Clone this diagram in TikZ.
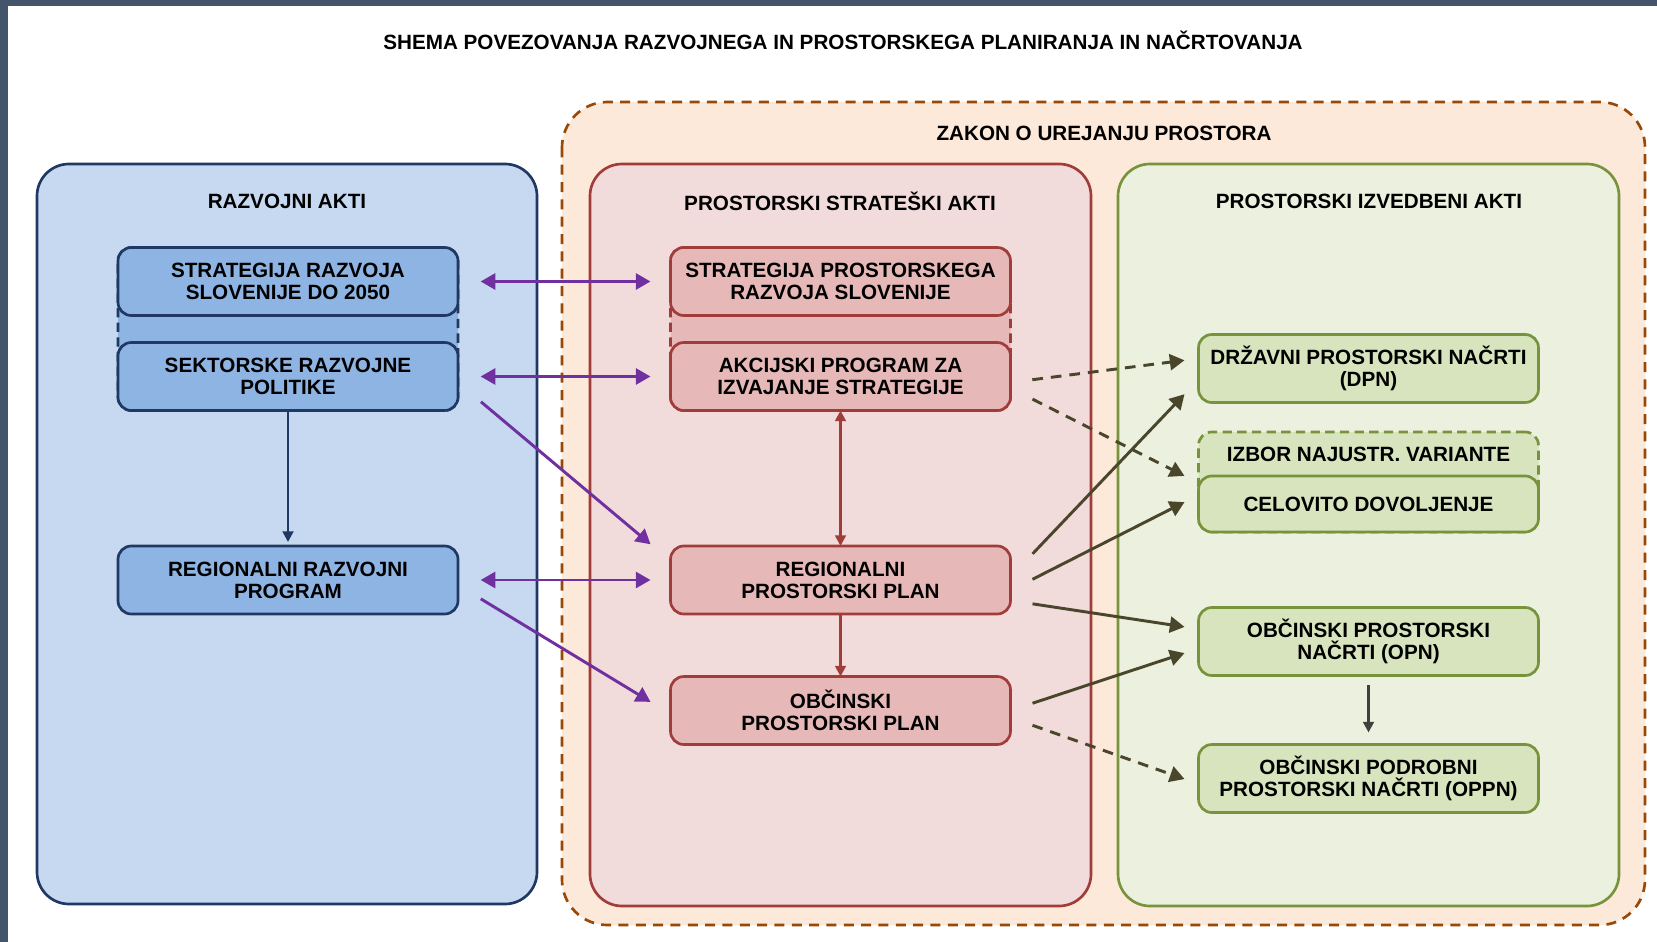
\documentclass[tikz,border=0pt]{standalone}
\usepackage{fontspec}
\setmainfont{Liberation Sans}
\usetikzlibrary{arrows.meta,fit,calc}

\definecolor{okvirtemni}{HTML}{44546A}
\definecolor{razvojfill}{HTML}{C6D9F1}
\definecolor{razvojline}{HTML}{1F3864}
\definecolor{razvojbox}{HTML}{8EB4E3}
\definecolor{zakonfill}{HTML}{FDE9D9}
\definecolor{zakonline}{HTML}{984807}
\definecolor{stratfill}{HTML}{F2DCDB}
\definecolor{stratline}{HTML}{A03C3A}
\definecolor{stratbox}{HTML}{E6B9B8}
\definecolor{izvfill}{HTML}{EBF1DE}
\definecolor{izvline}{HTML}{77933C}
\definecolor{izvbox}{HTML}{D7E4BD}
\definecolor{vijolicna}{HTML}{7030A0}
\definecolor{olivna}{HTML}{4A462C}
\definecolor{siva}{HTML}{404040}

\pgfdeclarelayer{ozadje}
\pgfdeclarelayer{skupine}
\pgfsetlayers{ozadje,skupine,main}

\tikzset{
  napis/.style={font=\fontsize{15.5pt}{16.5pt}\selectfont\bfseries, align=center, inner sep=0.75pt},
  okvir/.style={napis, rounded corners=10pt, line width=2pt, minimum width=255pt, minimum height=51pt, inner sep=0pt, outer sep=0pt},
  modri/.style={okvir, draw=razvojline, fill=razvojbox},
  rdeci/.style={okvir, draw=stratline, fill=stratbox},
  zeleni/.style={okvir, draw=izvline, fill=izvbox},
  skupina/.style={inner sep=0pt, rounded corners=10pt, line width=2pt, dash pattern=on 7pt off 4pt},
  vsebnik/.style={line width=2pt, rounded corners=24pt},
  povezava/.style={line width=2.2pt},
  mala puscica/.style={>={Triangle[length=8pt,width=8pt]}},
  vijolicna povezava/.style={povezava, draw=vijolicna},
  olivna povezava/.style={povezava, draw=olivna},
  crtkana/.style={dash pattern=on 8pt off 6pt}
}

\begin{document}
\begin{tikzpicture}[x=0.75pt,y=0.75pt,yscale=-1,xscale=1,>={Triangle[length=11pt,width=12pt]}]
\useasboundingbox (0,0) rectangle (1657,942);

\begin{pgfonlayer}{ozadje}
\fill[white] (0,0) rectangle (1657,942);
%Shape: Border
\fill[okvirtemni] (0,0) rectangle (8,942);
\fill[okvirtemni] (0,0) rectangle (1657,6);
%Shape: Rectangle [razvojni akti]
\draw[vsebnik, draw=razvojline, fill=razvojfill] (37,164) rectangle (537,904);
%Shape: Rectangle [zakon]
\draw[line width=2pt, rounded corners=34pt, draw=zakonline, fill=zakonfill, dash pattern=on 7.5pt off 5.5pt] (562,102) rectangle (1645,925);
%Shape: Rectangle [strateski akti]
\draw[vsebnik, draw=stratline, fill=stratfill] (590,164) rectangle (1091,906);
%Shape: Rectangle [izvedbeni akti]
\draw[vsebnik, draw=izvline, fill=izvfill] (1118,164) rectangle (1619,906);
\end{pgfonlayer}

% Text Node
\node[napis] (naslov) at (843,40) {SHEMA POVEZOVANJA RAZVOJNEGA IN PROSTORSKEGA PLANIRANJA IN NAČRTOVANJA};
% Text Node
\node[napis] (zakon) at (1104,133) {ZAKON O UREJANJU PROSTORA};
% Text Node
\node[napis] (razvojni) at (287,201) {RAZVOJNI AKTI};
% Text Node
\node[napis] (strateski) at (840,201) {PROSTORSKI STRATEŠKI AKTI};
% Text Node
\node[napis] (izvedbeni) at (1369,201) {PROSTORSKI IZVEDBENI AKTI};

%Blue boxes
\node[modri] (srs) at (288,281.5) {STRATEGIJA RAZVOJA\\SLOVENIJE DO 2050};
\node[modri] (srp) at (288,376.5) {SEKTORSKE RAZVOJNE\\POLITIKE};
\node[modri] (rrp) at (288,580) {REGIONALNI RAZVOJNI\\PROGRAM};

%Red boxes
\node[rdeci] (sprs) at (840.5,281.5) {STRATEGIJA PROSTORSKEGA\\RAZVOJA SLOVENIJE};
\node[rdeci] (akc) at (840.5,376.5) {AKCIJSKI PROGRAM ZA\\IZVAJANJE STRATEGIJE};
\node[rdeci] (rpp) at (840.5,580) {REGIONALNI\\PROSTORSKI PLAN};
\node[rdeci] (opp) at (840.5,710.5) {OBČINSKI\\PROSTORSKI PLAN};

%Green boxes
\node[zeleni] (dpn) at (1368.5,368.5) {DRŽAVNI PROSTORSKI NAČRTI\\(DPN)};
\node[napis, minimum width=255pt, minimum height=33pt, inner sep=0pt, outer sep=0pt] (izbor) at (1368.5,454) {IZBOR NAJUSTR. VARIANTE};
\node[zeleni, minimum height=42pt] (cd) at (1368.5,504) {CELOVITO DOVOLJENJE};
\node[zeleni] (opn) at (1368.5,641.5) {OBČINSKI PROSTORSKI\\NAČRTI (OPN)};
\node[zeleni] (oppn) at (1368.5,778.5) {OBČINSKI PODROBNI\\PROSTORSKI NAČRTI (OPPN)};

\begin{pgfonlayer}{skupine}
%Dashed groups
\node[skupina, fit=(srs)(srp), draw=razvojline, fill=razvojbox] (skupina1) {};
\node[skupina, fit=(sprs)(akc), draw=stratline, fill=stratbox] (skupina2) {};
\node[skupina, fit=(izbor)(cd), draw=izvline, fill=izvbox] (skupina3) {};
\end{pgfonlayer}

%Purple arrows
\draw[vijolicna povezava, <->, shorten <=17pt, shorten >=15pt] (srs.east) -- (sprs.west);
\draw[vijolicna povezava, <->, shorten <=17pt, shorten >=15pt] (srp.east) -- (akc.west);
\draw[vijolicna povezava, <->, shorten <=17pt, shorten >=15pt] (rrp.east) -- (rpp.west);
\draw[vijolicna povezava, ->, shorten <=22.5pt, shorten >=19.5pt] ($(srp.east)+(0,6)$) -- ($(rpp.west)+(0,-19)$);
\draw[vijolicna povezava, ->, shorten <=20pt, shorten >=17.5pt] ($(rrp.east)+(0,5)$) -- ($(opp.west)+(0,3.5)$);

%Vertical arrows
\draw[povezava, mala puscica, draw=razvojline, ->, shorten >=3pt] (srp) -- (rrp);
\draw[povezava, mala puscica, draw=stratline, <->] (akc) -- (rpp);
\draw[povezava, mala puscica, draw=stratline, ->] (rpp) -- (opp);
\draw[povezava, mala puscica, draw=siva, ->, shorten <=7pt, shorten >=9pt] (opn) -- (oppn);

%Olive arrows
\draw[olivna povezava, crtkana, ->, shorten <=16.5pt, shorten >=10.6pt] ($(akc.east)+(0,6)$) -- ($(dpn.west)+(0,-10)$);
\draw[olivna povezava, crtkana, ->, shorten <=18.5pt, shorten >=11.8pt] ($(akc.east)+(0,11.5)$) -- ($(cd.west)+(0,-21)$);
\draw[olivna povezava, ->, shorten <=24pt, shorten >=15.2pt] ($(rpp.east)+(0,-3)$) -- ($(dpn.west)+(0,11)$);
\draw[olivna povezava, ->, shorten <=18.5pt, shorten >=11.8pt] ($(rpp.east)+(0,10.5)$) -- ($(cd.west)+(0,-9)$);
\draw[olivna povezava, ->, shorten <=16.7pt, shorten >=10.6pt] ($(rpp.east)+(0,20.5)$) -- ($(opn.west)+(0,-12.5)$);
\draw[olivna povezava, ->, shorten <=17.4pt, shorten >=11pt] (opp.east) -- ($(opn.west)+(0,7)$);
\draw[olivna povezava, crtkana, ->, shorten <=17.5pt, shorten >=11.1pt] ($(opp.east)+(0,7)$) -- ($(oppn.west)+(0,5.5)$);

\end{tikzpicture}
\end{document}
